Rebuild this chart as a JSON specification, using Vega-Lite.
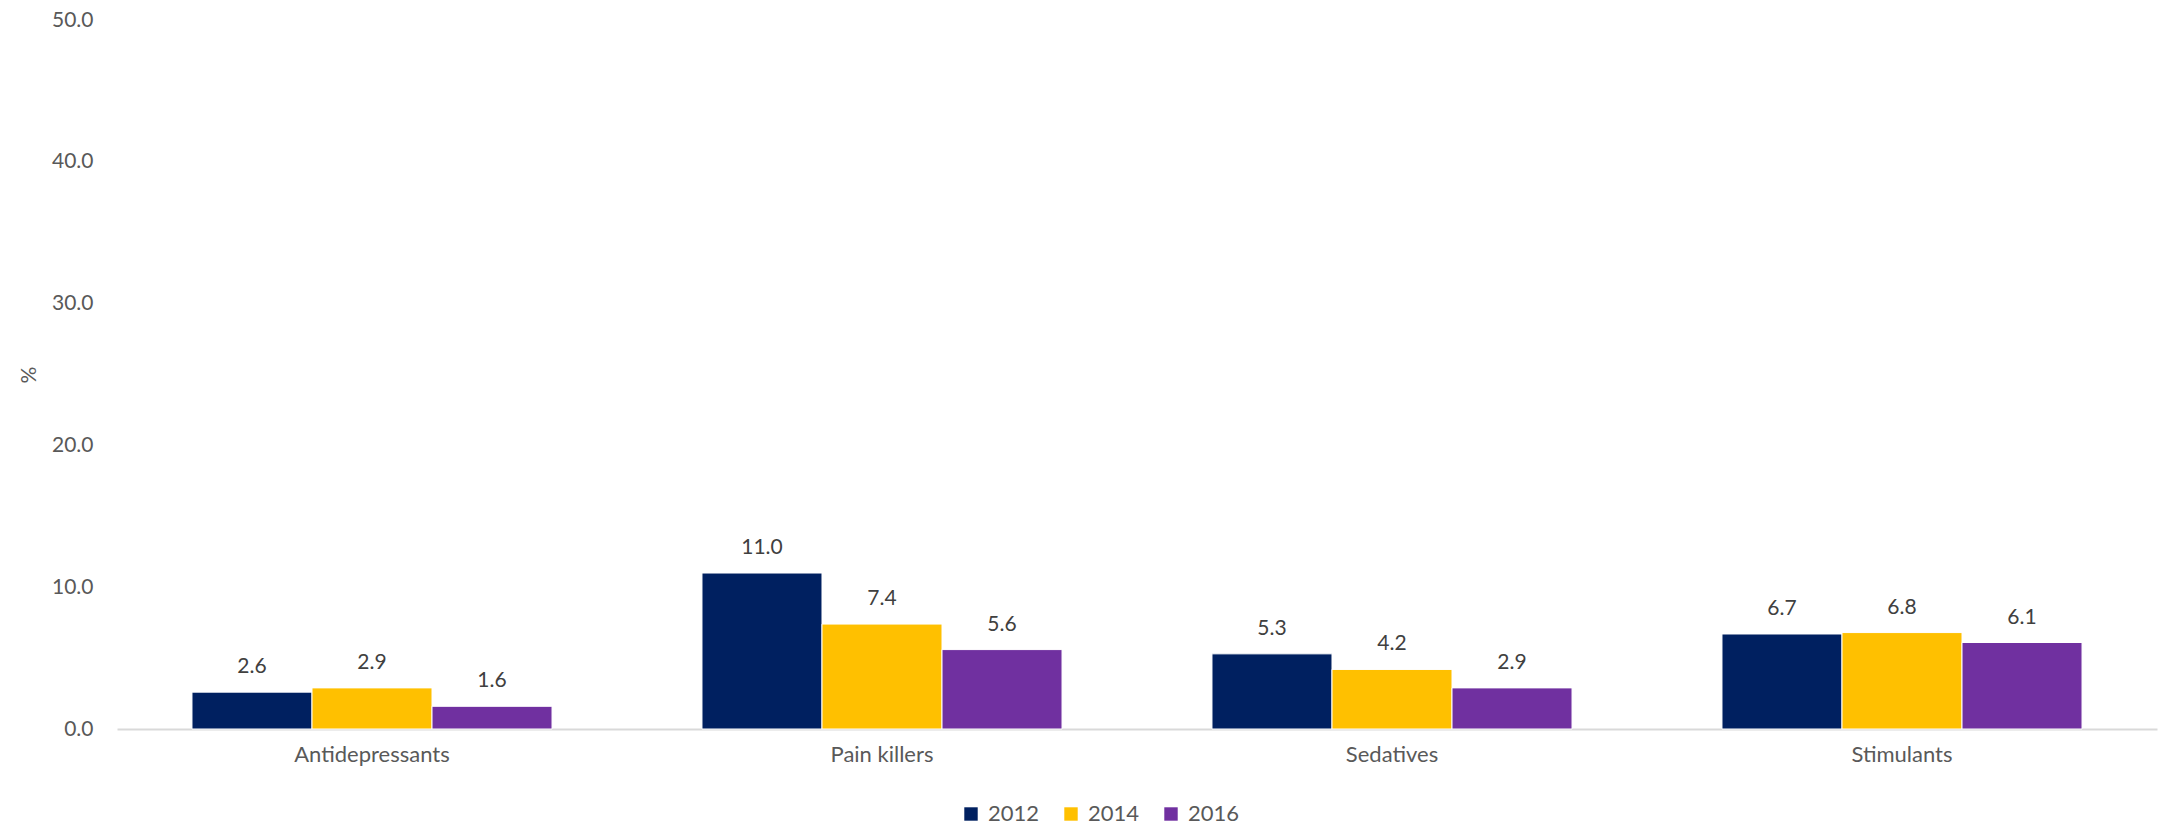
{
  "$schema": "https://vega.github.io/schema/vega-lite/v6.json",
  "width": 2040,
  "height": 709,
  "autosize": {"type": "none"},
  "padding": {"left": 117, "top": 20, "right": 1, "bottom": 97},
  "background": "white",
  "config": {
    "view": {"stroke": null},
    "font": "Lato"
  },
  "data": {
    "values": [
      {"drug": "Antidepressants", "year": "2012", "value": 2.6},
      {"drug": "Antidepressants", "year": "2014", "value": 2.9},
      {"drug": "Antidepressants", "year": "2016", "value": 1.6},
      {"drug": "Pain killers", "year": "2012", "value": 11.0},
      {"drug": "Pain killers", "year": "2014", "value": 7.4},
      {"drug": "Pain killers", "year": "2016", "value": 5.6},
      {"drug": "Sedatives", "year": "2012", "value": 5.3},
      {"drug": "Sedatives", "year": "2014", "value": 4.2},
      {"drug": "Sedatives", "year": "2016", "value": 2.9},
      {"drug": "Stimulants", "year": "2012", "value": 6.7},
      {"drug": "Stimulants", "year": "2014", "value": 6.8},
      {"drug": "Stimulants", "year": "2016", "value": 6.1}
    ]
  },
  "encoding": {
    "x": {
      "field": "drug",
      "type": "nominal",
      "scale": {"paddingInner": 0.294, "paddingOuter": 0.147},
      "axis": {
        "title": null,
        "labelAngle": 0,
        "labelFontSize": 22,
        "labelColor": "#595959",
        "labelPadding": 15,
        "ticks": false,
        "domainColor": "#d9d9d9",
        "domainWidth": 2,
        "grid": false
      }
    },
    "xOffset": {"field": "year", "type": "nominal", "scale": {"paddingInner": 0, "paddingOuter": 0}},
    "y": {
      "field": "value",
      "type": "quantitative",
      "scale": {"domain": [0, 50]},
      "axis": {
        "title": "%",
        "titleFontSize": 21,
        "titleFontWeight": "normal",
        "titleColor": "#595959",
        "titlePadding": 12,
        "labelFontSize": 21,
        "labelColor": "#595959",
        "labelPadding": 24,
        "format": ".1f",
        "values": [0, 10, 20, 30, 40, 50],
        "ticks": false,
        "domain": false,
        "grid": false
      }
    }
  },
  "layer": [
    {
      "mark": {"type": "bar", "stroke": "white", "strokeWidth": 1},
      "encoding": {
        "color": {
          "field": "year",
          "type": "nominal",
          "scale": {"domain": ["2012", "2014", "2016"], "range": ["#002060", "#FFC000", "#7030A0"]},
          "legend": {
            "title": null,
            "orient": "none",
            "legendX": 843,
            "legendY": 783,
            "direction": "horizontal",
            "symbolType": "square",
            "symbolSize": 180,
            "symbolStrokeWidth": 0,
            "labelFontSize": 22,
            "labelColor": "#595959",
            "labelOffset": 6,
            "columnPadding": 20
          }
        }
      }
    },
    {
      "mark": {"type": "text", "dy": -25, "fontSize": 21, "color": "#404040"},
      "encoding": {
        "text": {"field": "value", "type": "quantitative", "format": ".1f"}
      }
    }
  ]
}
